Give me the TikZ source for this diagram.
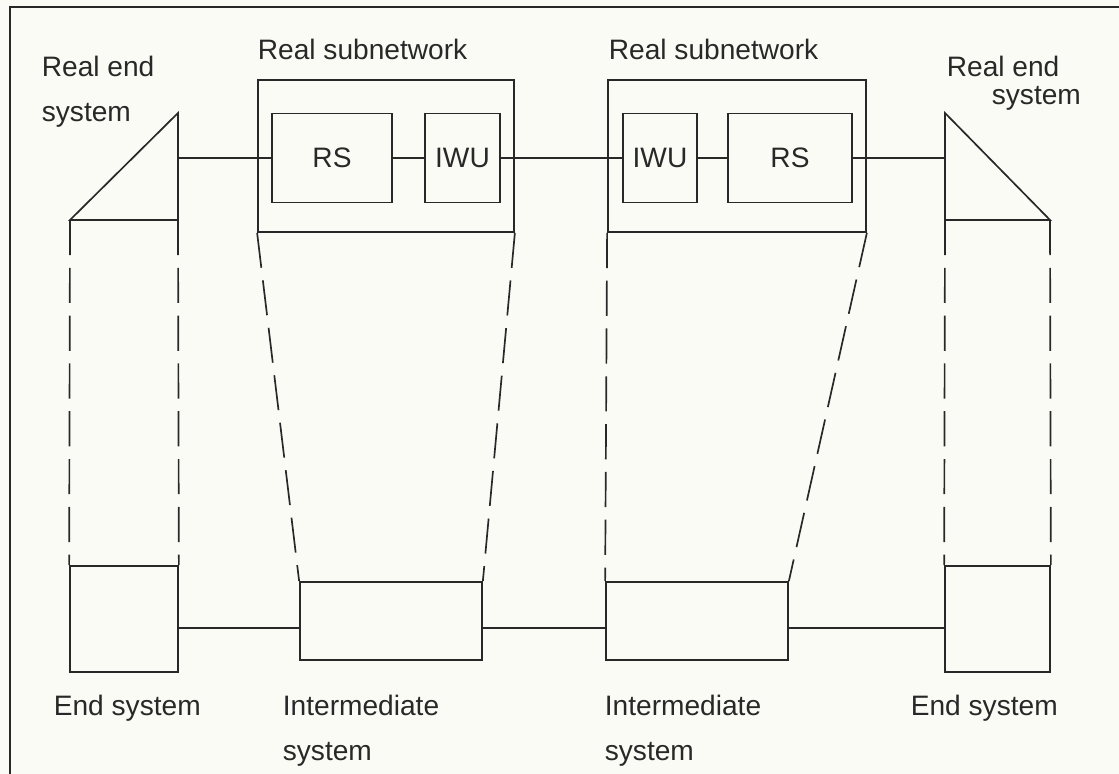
\documentclass[tikz,border=0pt]{standalone}
\usepackage{fontspec}
\setmainfont{Liberation Sans}
\usetikzlibrary{positioning}
\definecolor{InkGray}{RGB}{40,40,40}
\definecolor{PaperWhite}{RGB}{251,251,246}

\begin{document}
\begin{tikzpicture}[x=0.025cm,y=-0.025cm,line width=1.2pt,InkGray,
    font=\fontsize{20}{24}\selectfont,
    unitbox/.style={draw,minimum height=2.225cm,inner sep=0pt},
    subnet/.style={draw,minimum width=6.4cm,minimum height=3.8cm,inner sep=0pt},
    endbox/.style={draw,minimum height=2.65cm,inner sep=0pt},
    interbox/.style={draw,minimum width=4.55cm,minimum height=1.95cm,inner sep=0pt},
    txt/.style={anchor=base west,inner sep=0pt},
    proj/.style={dash pattern=on 25pt off 9pt}]
      \fill[PaperWhite] (0,0) rectangle (1119,774);
      \useasboundingbox (0,0) rectangle (1119,774);
      \draw[line width=1pt] (10,774)--(10,7)--(1119,7);
      % real subnetworks
      \node[subnet] (sub1) at (386,156) {};
      \node[subnet,minimum width=6.45cm] (sub2) at (737,156) {};
      \node[unitbox,minimum width=3cm] (rs1) at (332,158) {RS};
      \node[unitbox,minimum width=1.875cm] (iwu1) at (462.5,158) {IWU};
      \node[unitbox,minimum width=1.85cm] (iwu2) at (660,158) {IWU};
      \node[unitbox,minimum width=3.1cm] (rs2) at (790,158) {RS};
      % real end systems
      \coordinate (tipL) at (178,113);
      \coordinate (cornL) at (70,220);
      \coordinate (baseL) at (178,220);
      \coordinate (tipR) at (945,113);
      \coordinate (baseR) at (945,220);
      \coordinate (cornR) at (1050,220);
      \draw (cornL)--(tipL)--(baseL)--cycle;
      \draw (tipR)--(baseR)--(cornR)--cycle;
      % lower systems
      \node[endbox,minimum width=2.7cm] (endL) at (124,619) {};
      \node[endbox,minimum width=2.625cm] (endR) at (997.5,619) {};
      \node[interbox] (int1) at (391,621) {};
      \node[interbox] (int2) at (697,621) {};
      \coordinate (bus) at (0,628);
      % links
      \draw (rs1.west -| tipL)--(rs1.west);
      \draw (rs1)--(iwu1);
      \draw (iwu1)--(iwu2);
      \draw (iwu2)--(rs2);
      \draw (rs2.east)--(rs2.east -| tipR);
      \draw (endL.east |- bus)--(int1.west |- bus);
      \draw (int1.east |- bus)--(int2.west |- bus);
      \draw (int2.east |- bus)--(endR.west |- bus);
      % projections
      \draw[proj] (cornL)--(endL.north west);
      \draw[proj] (baseL)--(endL.north east);
      \draw[proj] (sub1.south west)--(int1.north west);
      \draw[proj] (sub1.south east)--(int1.north east);
      \draw[proj] (sub2.south west)--(int2.north west);
      \draw[proj] (sub2.south east)--(int2.north east);
      \draw[proj] (baseR)--(endR.north west);
      \draw[proj] (cornR)--(endR.north east);
      % texts
      \node[txt] (relab1) at (41,77) {Real end};
      \node[txt] (relab2) at (41,122) {system};
      \node[txt] (snlab1) at (257,60) {Real subnetwork};
      \node[txt] (snlab2) at (608,60) {Real subnetwork};
      \node[txt] (relab3) at (946,77) {Real end};
      \node[txt] (relab4) at (991,105) {system};
      \node[txt] (eslab1) at (53,715) {End system};
      \node[txt] (islab1) at (282,715) {Intermediate};
      \node[txt] (islab2) at (282,760) {system};
      \node[txt] (islab3) at (604,715) {Intermediate};
      \node[txt] (islab4) at (604,760) {system};
      \node[txt] (eslab2) at (910,715) {End system};
    \end{tikzpicture}
\end{document}
